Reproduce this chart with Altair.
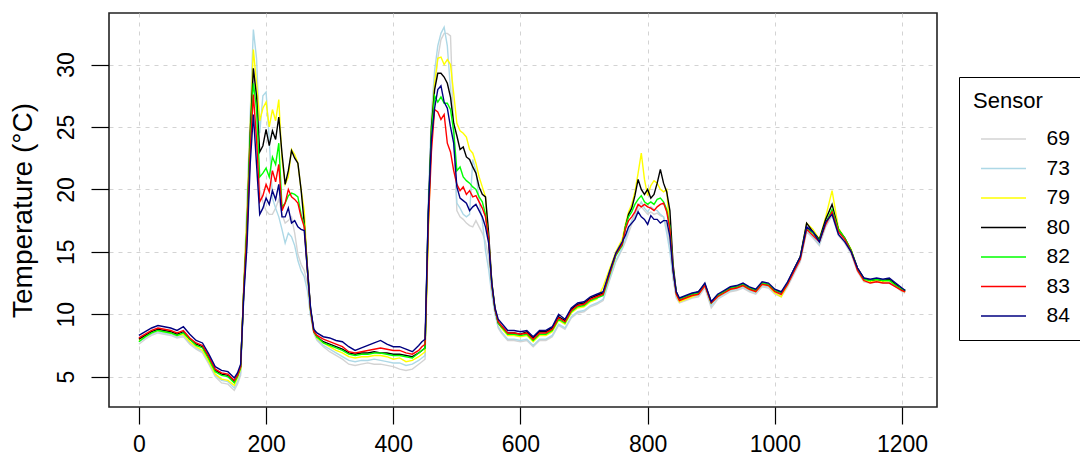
import altair as alt
import pandas as pd

# x positions (index of measurement)
x_vals = (list(range(0, 151, 10)) + list(range(155, 281, 5)) + list(range(290, 441, 10))
          + list(range(445, 571, 5)) + list(range(580, 761, 10)) + list(range(765, 846, 5))
          + list(range(850, 1201, 10)) + [1205])

t84 = [8.3,8.6,8.9,9.1,9.0,8.9,8.7,9.0,8.4,7.9,7.7,6.8,5.8,5.5,5.4,4.9,
       5.3,6.0,11.5,15.5,22.0,26.0,22.0,18.0,18.5,19.3,18.8,19.9,19.2,20.4,17.8,17.8,18.5,17.3,17.5,17.0,16.8,16.7,13.5,10.5,8.8,8.5,
       8.2,8.1,7.9,7.8,7.4,7.1,7.3,7.5,7.7,7.9,7.6,7.4,7.4,7.2,7.0,7.5,
       7.8,8.0,18.0,24.0,26.5,28.0,28.3,27.0,26.5,25.0,23.7,20.2,19.3,19.1,18.9,18.3,18.6,18.8,18.3,17.8,17.0,15.7,12.5,10.5,9.6,9.3,
       8.7,8.7,8.6,8.7,8.2,8.7,8.7,9.0,10.0,9.6,10.5,10.9,11.0,11.4,11.6,11.8,13.4,14.9,15.8,
       16.3,17.0,17.3,17.6,18.2,17.8,17.6,17.2,17.9,17.6,17.6,17.3,17.5,17.5,16.2,13.5,11.8,
       11.3,11.5,11.7,11.8,12.5,11.0,11.6,11.9,12.2,12.3,12.5,12.2,12.0,12.6,12.5,12.0,11.8,12.6,13.6,14.6,17.0,16.6,15.8,17.4,18.0,16.4,15.8,15.0,13.7,12.9,12.8,12.9,12.8,12.9,12.5,12.1,
       11.9]

t83 = [8.1,8.4,8.7,8.9,8.8,8.7,8.5,8.7,8.1,7.7,7.5,6.6,5.6,5.3,5.2,4.7,
       5.1,5.8,12.0,16.5,23.0,27.6,24.0,19.0,19.5,20.4,19.8,21.5,20.6,22.0,18.3,18.9,20.0,19.4,19.2,18.9,17.8,17.0,13.5,10.3,8.6,8.3,
       8.0,7.8,7.6,7.4,7.0,6.9,7.0,7.1,7.2,7.3,7.2,7.1,7.1,6.9,6.8,7.1,
       7.4,7.6,17.0,23.0,26.4,26.2,25.6,26.0,23.7,23.0,21.5,20.4,19.9,20.2,19.6,19.9,19.4,19.5,19.0,18.5,17.8,16.0,12.3,10.4,9.4,9.1,
       8.5,8.5,8.4,8.5,8.0,8.5,8.5,8.8,9.7,9.4,10.3,10.7,10.8,11.2,11.4,11.6,13.2,14.8,15.6,
       16.8,17.5,17.8,18.2,18.8,18.6,18.8,18.6,18.5,18.3,18.6,18.8,18.9,18.2,16.8,13.5,11.6,
       11.1,11.3,11.5,11.6,12.3,10.9,11.4,11.7,12.0,12.1,12.3,12.0,11.8,12.4,12.3,11.8,11.6,12.4,13.4,14.4,16.8,16.3,15.8,17.2,18.2,16.6,16.0,15.0,13.5,12.7,12.5,12.6,12.5,12.5,12.2,11.9,
       11.8]

t82 = [7.8,8.2,8.5,8.7,8.6,8.5,8.3,8.5,8.0,7.5,7.3,6.4,5.4,5.1,5.0,4.5,
       5.0,5.7,12.0,17.0,24.0,28.5,26.5,21.0,21.3,21.7,21.0,22.6,22.0,23.7,18.6,18.9,19.5,19.7,19.6,19.4,18.0,17.2,13.5,10.3,8.6,8.2,
       7.7,7.5,7.3,7.1,6.8,6.7,6.8,6.8,6.9,6.9,6.8,6.7,6.7,6.6,6.5,6.9,
       7.1,7.3,17.5,24.5,27.5,27.0,27.4,26.9,26.9,26.4,24.7,21.5,21.8,21.0,20.7,20.5,20.2,20.0,19.4,19.0,18.0,16.0,12.3,10.4,9.3,9.0,
       8.4,8.4,8.3,8.4,7.9,8.4,8.4,8.7,9.6,9.3,10.2,10.6,10.7,11.1,11.3,11.5,13.1,14.7,15.5,
       17.0,17.8,18.2,18.8,19.2,19.5,19.0,18.8,19.0,18.8,19.2,19.3,19.0,18.4,17.0,13.6,11.7,
       11.2,11.4,11.6,11.7,12.4,10.9,11.5,11.8,12.1,12.2,12.4,12.1,11.9,12.5,12.4,11.9,11.7,12.5,13.5,14.5,16.9,16.5,15.9,17.3,18.4,16.8,16.1,15.1,13.6,12.8,12.7,12.8,12.7,12.7,12.3,12.0,
       11.9]

t80 = [8.0,8.3,8.6,8.8,8.7,8.6,8.4,8.6,8.0,7.6,7.4,6.5,5.5,5.2,5.1,4.6,
       5.1,5.8,12.0,17.0,24.5,29.7,27.5,23.0,23.5,24.8,23.5,24.7,24.0,25.8,22.9,20.4,21.5,23.1,22.5,22.1,20.0,17.3,13.8,10.4,8.7,8.2,
       7.8,7.6,7.4,7.2,6.9,6.8,6.9,6.9,7.0,6.9,6.9,6.8,6.8,6.7,6.6,6.9,
       7.1,7.3,18.0,25.0,28.0,29.3,29.3,29.0,28.5,27.4,25.3,24.3,23.2,23.4,22.6,22.4,21.8,21.3,20.2,19.6,19.4,16.5,12.5,10.4,9.3,9.0,
       8.5,8.5,8.4,8.6,8.1,8.6,8.6,8.9,9.8,9.5,10.4,10.8,10.9,11.3,11.5,11.7,13.3,14.8,15.6,
       17.0,18.0,18.5,19.5,20.8,20.0,19.6,20.0,19.3,19.6,20.5,21.6,20.5,19.8,18.3,14.0,11.8,
       11.2,11.4,11.6,11.8,12.4,11.0,11.5,11.8,12.1,12.2,12.4,12.1,11.9,12.5,12.4,11.9,11.7,12.5,13.6,14.6,17.3,16.6,16.0,17.6,18.8,16.8,16.1,15.1,13.7,12.9,12.7,12.8,12.7,12.8,12.4,12.0,
       11.9]

t79 = [7.9,8.2,8.5,8.7,8.6,8.5,8.3,8.4,7.8,7.4,7.1,6.2,5.2,4.8,4.7,4.3,
       4.9,5.6,12.5,18.0,25.0,31.2,28.5,25.5,26.5,27.0,25.0,26.4,25.5,27.2,22.4,20.4,21.0,23.2,22.8,22.1,20.0,18.3,13.6,10.3,8.6,8.1,
       7.7,7.4,7.1,6.9,6.6,6.5,6.6,6.6,6.7,6.7,6.6,6.4,6.5,6.2,6.3,6.6,
       6.8,7.0,16.0,25.0,28.5,30.5,30.6,30.0,30.4,30.0,27.7,25.3,24.7,24.5,24.2,23.2,22.9,22.1,21.0,20.2,19.4,16.0,12.6,10.5,9.3,8.9,
       8.3,8.3,8.2,8.3,7.8,8.3,8.3,8.6,9.5,9.2,10.1,10.5,10.6,11.0,11.2,12.2,13.6,15.0,16.0,
       17.2,18.2,18.8,19.8,21.3,22.9,20.8,19.5,20.3,20.7,20.5,20.0,19.8,20.0,16.5,13.8,11.6,
       11.0,11.2,11.4,11.6,12.3,10.9,11.4,11.7,12.0,12.1,12.3,12.0,11.8,12.4,12.3,11.7,11.4,12.4,13.5,14.6,17.3,16.8,16.0,17.8,19.9,16.9,16.1,15.2,13.6,12.7,12.6,12.7,12.6,12.7,12.3,11.9,
       11.8]

t73 = [7.8,8.1,8.4,8.6,8.5,8.4,8.2,8.3,7.7,7.3,7.0,6.1,5.1,4.7,4.6,4.1,
       4.6,5.3,12.5,19.0,26.0,32.8,30.5,24.5,27.5,27.8,24.0,19.3,18.5,17.8,16.8,15.7,16.5,16.2,15.5,14.3,13.5,13.0,11.9,9.8,8.5,8.0,
       7.5,7.2,6.9,6.6,6.3,6.2,6.3,6.3,6.4,6.3,6.2,6.1,6.1,5.9,6.0,6.3,
       6.5,6.7,19.0,26.0,29.5,31.5,32.5,33.0,31.5,28.0,24.0,18.9,18.5,18.0,17.8,18.0,22.4,21.5,19.0,17.5,15.1,13.6,11.5,10.0,9.0,8.6,
       8.0,8.0,7.9,8.0,7.5,8.0,8.0,8.3,9.2,8.9,9.8,10.2,10.3,10.7,10.9,11.2,12.8,14.3,15.3,
       16.0,16.8,17.5,18.0,18.6,19.0,18.5,18.2,18.6,18.4,18.3,18.0,17.8,16.5,15.0,12.8,11.4,
       11.0,11.2,11.4,11.5,12.2,10.7,11.3,11.6,11.9,12.0,12.2,11.9,11.7,12.3,12.2,11.7,11.5,12.3,13.3,14.3,16.7,16.2,15.6,17.1,18.0,16.4,15.8,14.9,13.5,12.7,12.6,12.7,12.6,12.6,12.3,11.9,
       11.8]

t69 = [7.6,8.0,8.3,8.5,8.4,8.3,8.1,8.2,7.6,7.2,6.9,6.0,5.0,4.5,4.4,3.9,
       4.4,5.1,11.5,16.0,23.0,29.5,26.0,20.0,19.0,18.3,18.0,18.0,18.5,19.2,18.0,17.3,17.5,17.8,16.5,14.8,14.0,13.5,12.5,10.0,8.5,7.9,
       7.4,7.0,6.7,6.4,6.0,5.9,6.0,6.1,6.0,6.0,5.9,5.8,5.6,5.5,5.6,6.0,
       6.2,6.4,17.0,24.0,28.0,30.5,32.0,32.5,32.5,32.3,25.0,18.3,17.8,17.6,17.3,17.1,17.0,17.5,17.0,16.5,15.8,14.5,12.0,10.2,8.9,8.5,
       7.9,7.9,7.8,7.9,7.4,7.9,7.9,8.2,9.1,8.8,9.7,10.1,10.2,10.6,10.8,11.1,12.7,14.2,15.2,
       15.8,16.5,17.2,17.8,18.3,18.6,18.3,18.0,18.2,18.0,18.1,17.9,17.8,17.0,15.5,13.0,11.3,
       10.9,11.1,11.3,11.4,12.1,10.5,11.2,11.5,11.8,11.9,12.1,11.8,11.6,12.2,12.1,11.6,11.4,12.2,13.2,14.2,16.6,16.1,15.5,17.0,17.9,16.3,15.7,14.8,13.4,12.6,12.5,12.6,12.5,12.5,12.2,11.8,
       11.7]

sensors = ["69", "73", "79", "80", "82", "83", "84"]
colors = ["#D3D3D3", "#ADD8E6", "#FFFF00", "#000000", "#00FF00", "#FF0000", "#000080"]
series = {"69": t69, "73": t73, "79": t79, "80": t80, "82": t82, "83": t83, "84": t84}

x_ticks = [0, 200, 400, 600, 800, 1000, 1200]
y_ticks = [5, 10, 15, 20, 25, 30]

rows = []
for s in sensors:
    vals = series[s]
    assert len(vals) == len(x_vals), (s, len(vals), len(x_vals))
    for xv, yv in zip(x_vals, vals):
        rows.append({"idx": xv, "temp": yv, "sensor": s})
df = pd.DataFrame(rows)

FONT = "Liberation Sans"

x_enc = alt.X("idx:Q",
              scale=alt.Scale(domain=[-47, 1255], nice=False, zero=False),
              axis=alt.Axis(values=x_ticks, title=None, grid=True, gridColor="#D3D3D3",
                            gridDash=[4, 5], gridWidth=1, domain=False,
                            tickSize=17, tickColor="black", tickWidth=1.2,
                            labelFontSize=23, labelFont=FONT, labelColor="black",
                            labelPadding=9, format="d"))
y_enc = alt.Y("temp:Q",
              scale=alt.Scale(domain=[2.57, 34.13], nice=False, zero=False),
              axis=alt.Axis(values=y_ticks, title="Temperature (°C)", grid=True,
                            gridColor="#D3D3D3", gridDash=[4, 5], gridWidth=1,
                            domain=False, tickSize=18, tickColor="black", tickWidth=1.2,
                            labelFontSize=23, labelFont=FONT, labelColor="black",
                            labelAngle=270, labelAlign="center", labelBaseline="alphabetic",
                            labelPadding=18,
                            titleFontSize=28, titleFont=FONT, titleFontWeight="normal",
                            titleColor="black", titleAngle=270, titleX=-86,
                            titleBaseline="middle", titleAlign="center"))
color_enc = alt.Color("sensor:N",
                      scale=alt.Scale(domain=sensors, range=colors),
                      legend=alt.Legend(title="Sensor", orient="none", legendX=850, legendY=64,
                                        direction="vertical", symbolType="M-1.607,0H1.607",
                                        symbolSize=784, symbolStrokeWidth=1.5,
                                        symbolOffset=15.5,
                                        labelFontSize=21, labelFont=FONT, labelColor="black",
                                        titleFontSize=22, titleFont=FONT, titleFontWeight="normal",
                                        titleColor="black", strokeColor="black", padding=14,
                                        labelOffset=28, rowPadding=4.5, titlePadding=11,
                                        labelExpr="datum.label + '                    '"))

layers = []
for s in sensors:
    layers.append(
        alt.Chart(df).transform_filter(alt.datum.sensor == s)
        .mark_line(strokeWidth=1.4)
        .encode(x=x_enc, y=y_enc, color=color_enc)
    )

chart = alt.layer(*layers).properties(
    width=828, height=394,
    autosize=alt.AutoSizeParams(type="none"),
    padding={"left": 109, "top": 13, "right": 143, "bottom": 61},
).configure(
    background="white",
    view=alt.ViewConfig(stroke="#222222", strokeWidth=1.6),
)

chart.save("out.html", embed_options={"renderer": "svg", "actions": False})
